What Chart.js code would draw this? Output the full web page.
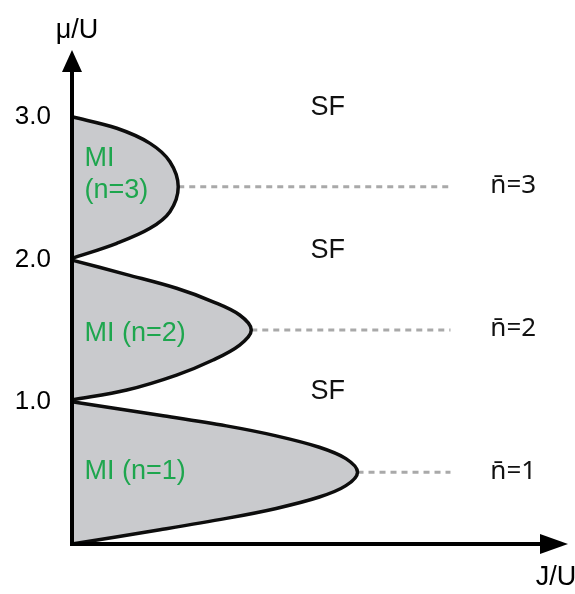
<!DOCTYPE html>
<html>
<head>
<meta charset="utf-8">
<script src="https://cdn.jsdelivr.net/npm/chart.js@4/dist/chart.umd.min.js"></script>
<style>
  html, body { margin: 0; padding: 0; background: #fff; }
  #wrap { width: 575px; height: 594px; }
</style>
</head>
<body>
<div id="wrap"><canvas id="c" width="575" height="594"></canvas></div>
<script>
// Mott lobes, boundary: [J/U, mu/U], bottom -> tip -> top
const lobe1 = [[0, 0], [0.053, 0.100], [0.093, 0.180], [0.123, 0.250], [0.149, 0.330], [0.165, 0.410],
  [0.172, 0.505], [0.165, 0.600], [0.149, 0.680], [0.123, 0.760], [0.093, 0.830], [0.053, 0.905], [0, 1.0]];
const lobe2 = [[0, 1.012], [0.033, 1.082], [0.063, 1.187], [0.085, 1.293], [0.101, 1.398],
  [0.108, 1.504], [0.101, 1.609], [0.085, 1.702], [0.063, 1.797], [0.033, 1.893], [0, 1.995]];
const lobe3 = [[0, 2.007], [0.027, 2.113], [0.047, 2.218], [0.059, 2.335],
  [0.064, 2.510], [0.059, 2.686], [0.047, 2.815], [0.027, 2.921], [0, 3.002]];

// constant density lines n=1,2,3 (start at lobe tip)
const fillLevels = [0.505, 1.504, 2.510];
const tipJ = [0.172, 0.108, 0.064];
const dashEnd = 0.228;

const yTicks = [1, 2, 3];
const yTickLabels = ['1.0', '2.0', '3.0'];

const sfLabels = ['SF', 'SF', 'SF'];
const sfMu = [1.068, 2.06, 3.07];
const nbarLabels = ['n\u0304=1', 'n\u0304=2', 'n\u0304=3'];
const miLabels = [['MI (n=1)'], ['MI (n=2)'], ['MI', '(n=3)']];
const miMu = [[0.506], [1.482], [2.705, 2.48]];

const X_MAX = 0.30, Y_MAX = 3.471;
const FONT = '"Liberation Sans", Arial, sans-serif';

function pts(arr) { return arr.map(p => ({x: p[0], y: p[1]})); }

const lobeStyle = {
  showLine: true, fill: 'shape', backgroundColor: '#c9cacd', borderColor: '#0d0d0d',
  borderWidth: 3.5, pointRadius: 0, tension: 0.35, clip: false, order: 2
};

const datasets = [lobe1, lobe2, lobe3].map((l, i) => Object.assign({label: 'MI ' + (i + 1), data: pts(l)}, lobeStyle));
fillLevels.forEach((mu, i) => {
  datasets.push({
    label: 'nbar ' + (i + 1), data: [{x: tipJ[i], y: mu}, {x: dashEnd, y: mu}],
    showLine: true, fill: false, borderColor: '#a9a9a9', borderWidth: 3, borderDash: [6, 5],
    pointRadius: 0, order: 3
  });
});

const overlay = {
  id: 'overlay',
  afterDatasetsDraw(chart) {
    const ctx = chart.ctx, xs = chart.scales.x, ys = chart.scales.y;
    const x0 = xs.getPixelForValue(0), y0 = ys.getPixelForValue(0);
    const xEnd = xs.getPixelForValue(X_MAX) - 2, yEnd = ys.getPixelForValue(Y_MAX);
    ctx.save();
    ctx.strokeStyle = '#000'; ctx.fillStyle = '#000'; ctx.lineWidth = 4;
    // axes
    ctx.beginPath();
    ctx.moveTo(x0, y0); ctx.lineTo(x0, yEnd + 18);
    ctx.moveTo(x0 - 2, y0); ctx.lineTo(xEnd - 24, y0);
    ctx.stroke();
    // arrow heads
    ctx.beginPath();
    ctx.moveTo(x0, yEnd); ctx.lineTo(x0 - 10, yEnd + 22); ctx.lineTo(x0 + 10, yEnd + 22); ctx.closePath();
    ctx.fill();
    ctx.beginPath();
    ctx.moveTo(xEnd, y0); ctx.lineTo(xEnd - 28, y0 - 10); ctx.lineTo(xEnd - 28, y0 + 10); ctx.closePath();
    ctx.fill();

    ctx.textBaseline = 'middle';
    ctx.font = '26px ' + FONT;
    ctx.textAlign = 'right';
    yTicks.forEach((v, i) => ctx.fillText(yTickLabels[i], x0 - 21, ys.getPixelForValue(v)));

    ctx.font = '27px ' + FONT;
    ctx.textAlign = 'center';
    ctx.fillText('\u03bc/U', 77, 31);
    ctx.fillText('J/U', 556, 578);

    ctx.fillStyle = '#111';
    sfLabels.forEach((t, i) => ctx.fillText(t, xs.getPixelForValue(0.154), ys.getPixelForValue(sfMu[i])));
    ctx.textAlign = 'left';
    ctx.font = '26px "Noto Sans", ' + FONT;
    nbarLabels.forEach((t, i) => ctx.fillText(t, xs.getPixelForValue(0.252), ys.getPixelForValue(fillLevels[i]) - 1));

    ctx.font = '27px ' + FONT;
    ctx.fillStyle = '#1ea64e';
    miLabels.forEach((lines, i) => {
      lines.forEach((t, k) => ctx.fillText(t, xs.getPixelForValue(0.0075), ys.getPixelForValue(miMu[i][k])));
    });
    ctx.restore();
  }
};

new Chart(document.getElementById('c'), {
  type: 'scatter',
  data: {datasets: datasets},
  options: {
    responsive: false,
    animation: false,
    layout: {padding: {left: 72, right: 5, top: 50, bottom: 50}},
    plugins: {legend: {display: false}, tooltip: {enabled: false}},
    scales: {
      x: {type: 'linear', min: 0, max: X_MAX, display: false},
      y: {type: 'linear', min: 0, max: Y_MAX, display: false}
    }
  },
  plugins: [overlay]
});
</script>
</body>
</html>
